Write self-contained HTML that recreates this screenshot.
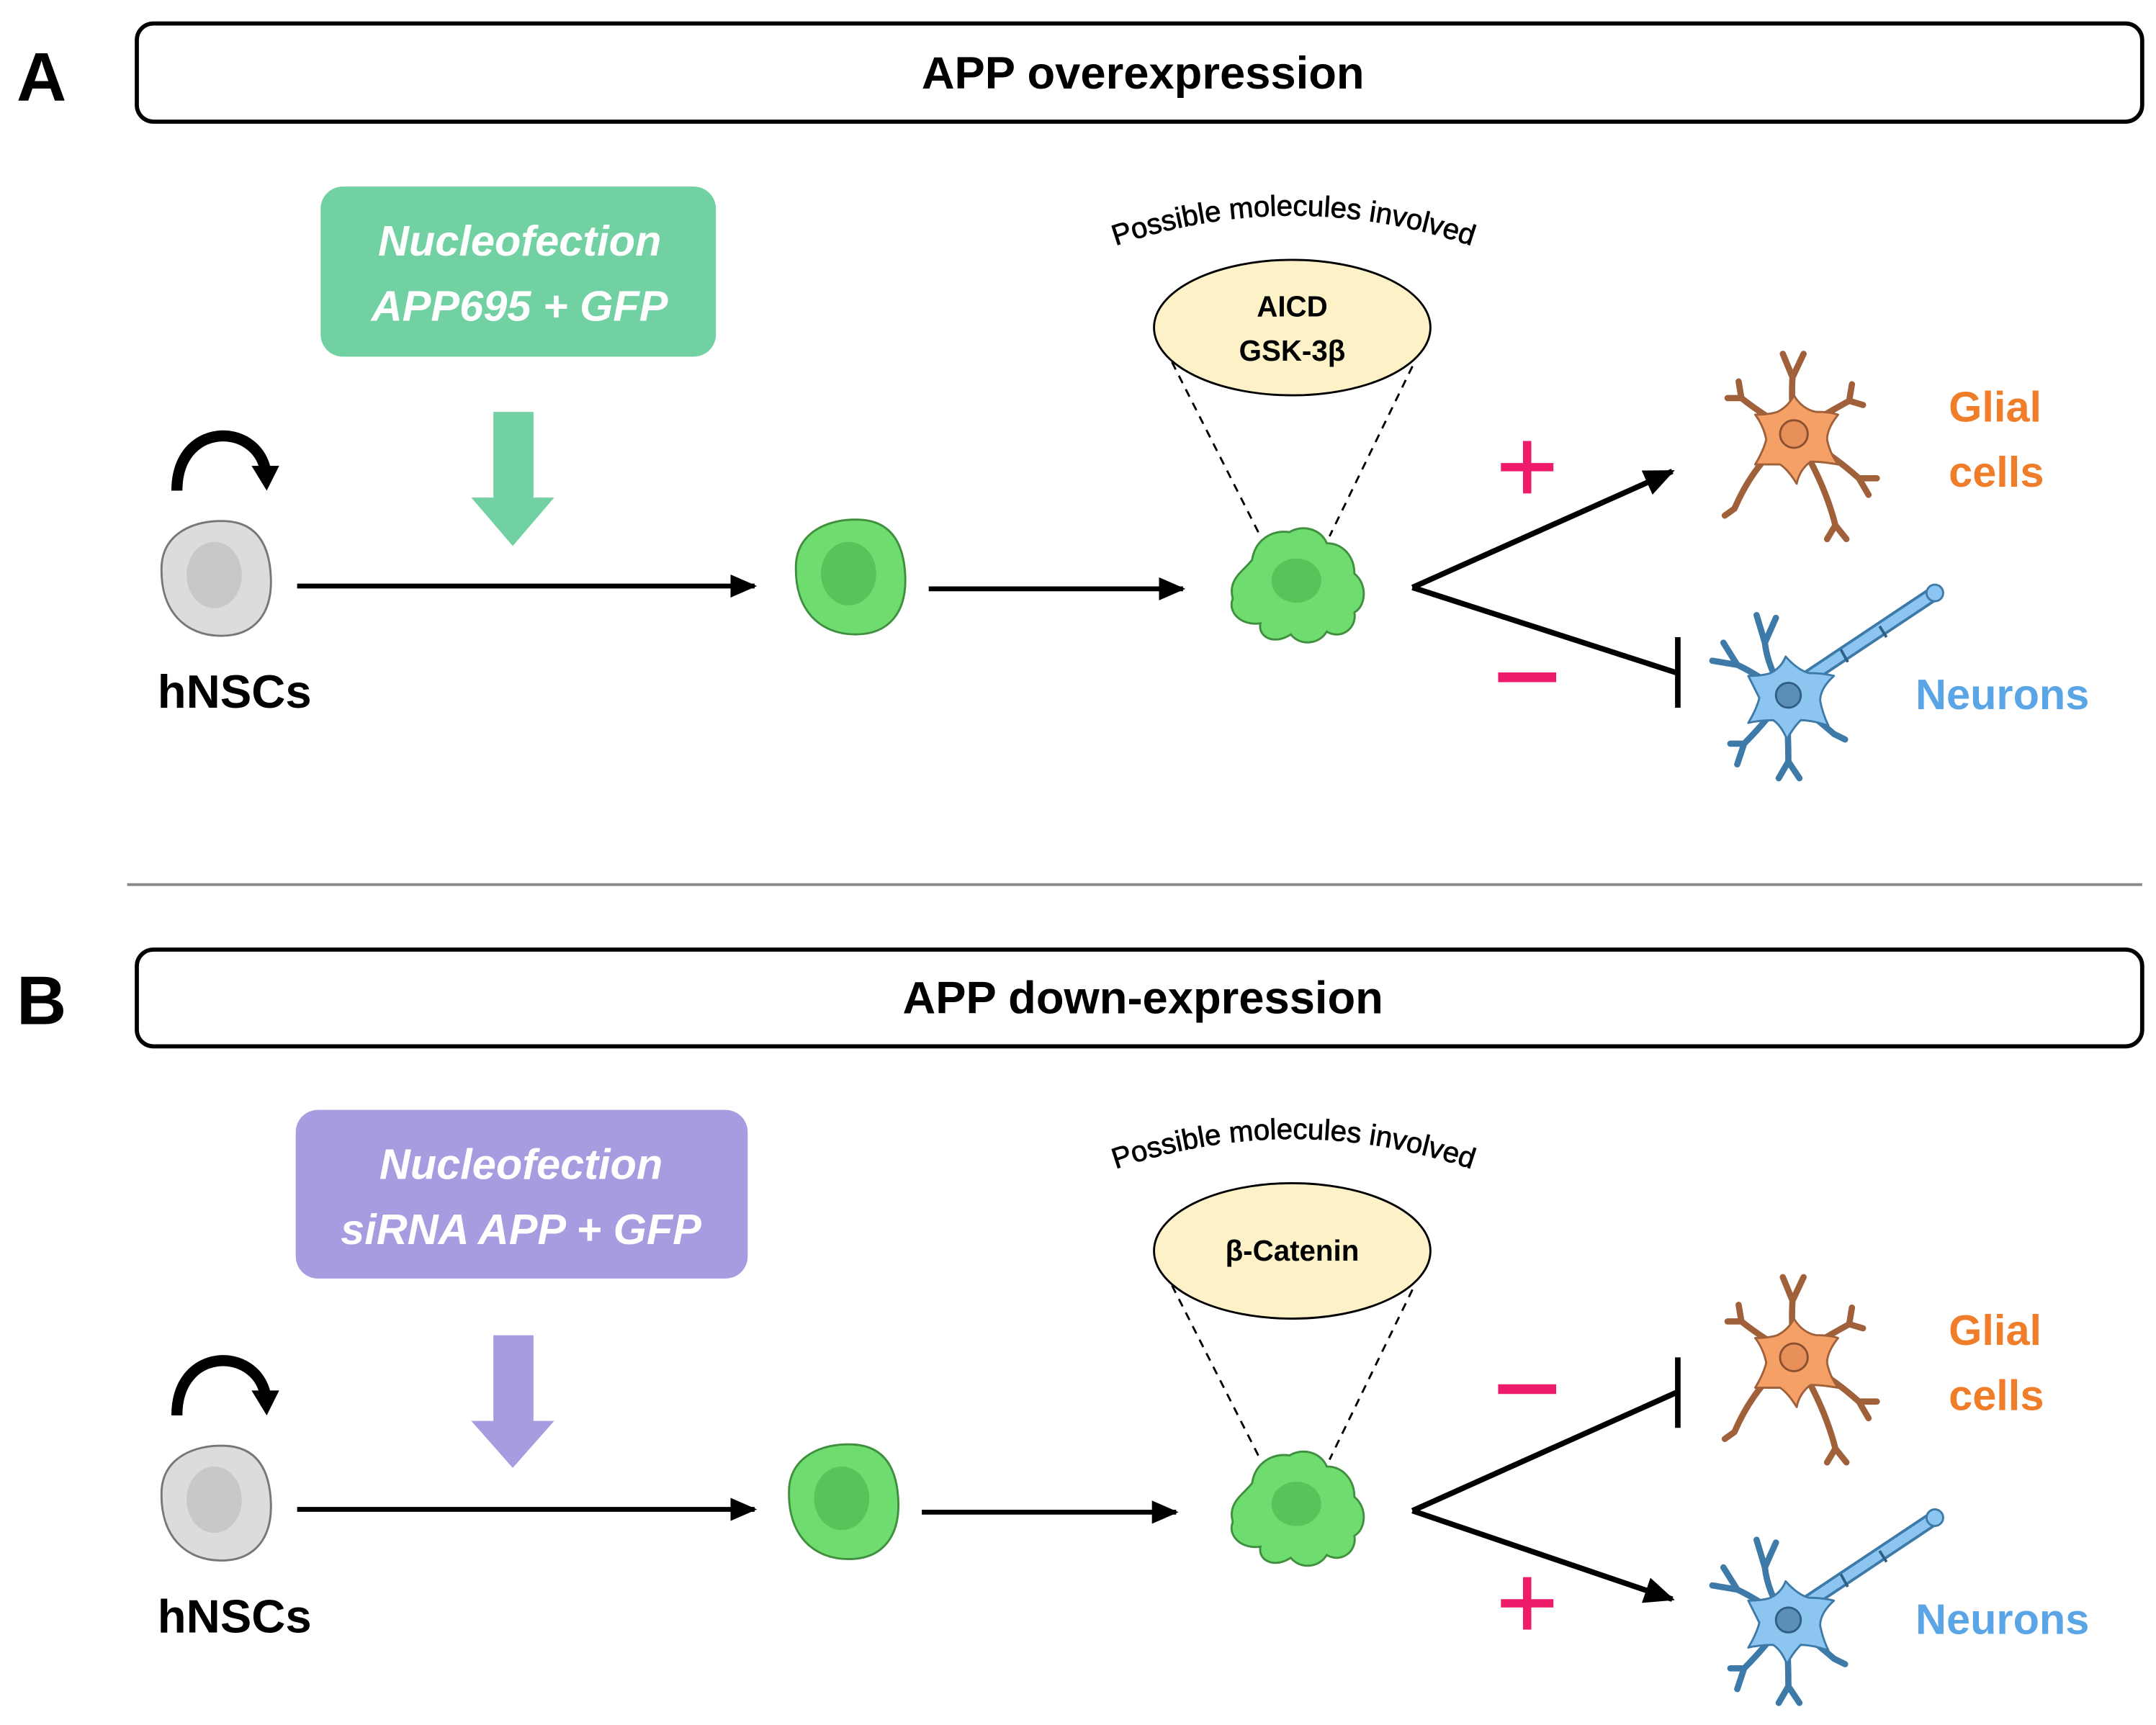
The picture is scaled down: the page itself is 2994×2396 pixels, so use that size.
<!DOCTYPE html>
<html><head><meta charset="utf-8"><style>
html,body{margin:0;padding:0;background:#fff;}
svg{display:block;}
text{font-family:"Liberation Sans",sans-serif;}
</style></head><body>
<svg width="2994" height="2396" viewBox="0 0 1560 1248" preserveAspectRatio="none" xmlns="http://www.w3.org/2000/svg">
<defs>
<marker id="ah" markerWidth="6" markerHeight="6" refX="5" refY="3" orient="auto" markerUnits="strokeWidth">
<path d="M0,0.6 L5.5,3 L0,5.4 Z" fill="#000"/></marker>
<g id="gray">
<path d="M-38,-10 C-36,-32 -15,-42 8,-41 C30,-40 40,-25 41,0 C42,25 30,42 5,42 C-20,42 -40,25 -38,-10 Z" fill="#dcdcdc" stroke="#777" stroke-width="1.5"/>
<ellipse cx="0" cy="-2" rx="20" ry="24" fill="#c8c8c8"/>
</g>
<g id="round">
<path d="M-38,-10 C-36,-32 -15,-42 8,-41 C30,-40 40,-25 41,0 C42,25 30,42 5,42 C-20,42 -40,25 -38,-10 Z" fill="#6fdc6f" stroke="#3f8f3f" stroke-width="1.5"/>
<ellipse cx="0" cy="-2" rx="20" ry="23" fill="#5ac25a"/>
</g>
<g id="wavy">
<path d="M-46,10 C-50,-4 -38,-10 -32,-18 C-30,-32 -18,-40 -5,-38 C5,-44 18,-40 22,-30 C34,-30 42,-20 42,-8 C52,0 50,16 42,20 C44,32 32,40 22,34 C16,44 2,44 -4,36 C-16,44 -28,38 -26,28 C-40,30 -50,20 -46,10 Z" fill="#6fdc6f" stroke="#3f8f3f" stroke-width="1.5"/>
<ellipse cx="0" cy="-3" rx="18" ry="16" fill="#5ac25a"/>
</g>
<g id="glial">
<g stroke="#a0603a" stroke-width="4.5" fill="none" stroke-linecap="round" stroke-linejoin="round">
<path d="M-2,-5 Q-4,-30 -3,-45 L-10,-62 M-3,-45 L5,-62"/>
<path d="M-2,-5 Q-25,-18 -40,-30 L-50,-30 M-40,-30 L-42,-42"/>
<path d="M-2,-5 Q20,-18 38,-28 L48,-25 M38,-28 L40,-40"/>
<path d="M-2,-5 Q25,10 45,28 L58,28 M45,28 L52,40"/>
<path d="M-2,-5 Q20,30 28,62 L22,72 M28,62 L36,72"/>
<path d="M-2,-5 Q-30,15 -45,50 L-52,55"/>
</g>
<path d="M-2,-32 Q4,-22 14,-20 Q24,-20 30,-18 Q22,-8 22,0 Q24,10 30,18 Q18,16 10,16 Q2,22 0,32 Q-6,22 -12,18 Q-22,18 -30,18 Q-24,8 -22,0 Q-24,-10 -30,-18 Q-20,-18 -14,-20 Q-6,-24 -2,-32 Z" fill="#f5a066" stroke="#a0603a" stroke-width="1.5" stroke-linejoin="round"/>
<circle cx="-2" cy="-4" r="10" fill="#e8905a" stroke="#8a5030" stroke-width="1.5"/>
</g>
<g id="neuron">
<g stroke="#3d7aa8" stroke-width="4.5" fill="none" stroke-linecap="round" stroke-linejoin="round">
<path d="M-5,0 Q-18,-20 -20,-38 L-26,-58 M-20,-38 L-12,-56"/>
<path d="M-5,0 Q-25,-15 -40,-22 L-58,-25 M-40,-22 L-50,-38"/>
<path d="M-5,0 Q-20,20 -35,35 L-45,35 M-35,35 L-40,50"/>
<path d="M-5,0 Q-3,25 -3,48 L-10,60 M-3,48 L5,60"/>
<path d="M-5,0 Q15,15 30,28 L38,32"/>
</g>
<path d="M10,-12 L100,-72" stroke="#3d7aa8" stroke-width="11" stroke-linecap="round"/>
<path d="M10,-12 L100,-72" stroke="#8cc6f0" stroke-width="7" stroke-linecap="round"/>
<path d="M35,-33 L40,-24 M63,-50 L68,-42" stroke="#2f5f85" stroke-width="2"/>
<circle cx="103" cy="-74" r="6" fill="#8cc6f0" stroke="#3d7aa8" stroke-width="1.5"/>
<path d="M-5,-28 Q4,-18 12,-16 Q22,-16 30,-14 Q20,-5 20,4 Q22,14 26,22 Q14,18 6,18 Q0,24 -4,32 Q-8,22 -14,18 Q-24,18 -32,20 Q-26,10 -24,2 Q-28,-6 -32,-14 Q-22,-14 -16,-16 Q-8,-20 -5,-28 Z" fill="#8cc6f0" stroke="#3d7aa8" stroke-width="1.5" stroke-linejoin="round"/>
<circle cx="-3" cy="0" r="9" fill="#5b8fb8" stroke="#2f5f85" stroke-width="1.5"/>
</g>
<path id="arcA" d="M790,184 Q935,128 1082,184"/>
<path id="arcB" d="M790,852 Q935,796 1082,852"/>
</defs>

<!-- Panel A -->
<text x="12" y="73" font-size="50" font-weight="bold">A</text>
<rect x="99" y="17" width="1451" height="71" rx="12" fill="#fff" stroke="#000" stroke-width="3"/>
<text x="827" y="64" font-size="33" font-weight="bold" text-anchor="middle">APP overexpression</text>

<rect x="232" y="135" width="286" height="123" rx="16" fill="#72d1a3"/>
<text x="376" y="185" font-size="31" font-weight="bold" font-style="italic" fill="#fff" text-anchor="middle">Nucleofection</text>
<text x="376" y="232" font-size="31" font-weight="bold" font-style="italic" fill="#fff" text-anchor="middle">APP695 + GFP</text>
<path d="M357,298 H386 V360 H401 L371,395 L341,360 H357 Z" fill="#72d1a3"/>

<path d="M128,355 C128,305 185,305 192,340" stroke="#000" stroke-width="8" fill="none"/>
<path d="M182,337 L202,337 L193,355 Z" fill="#000"/>
<use href="#gray" x="155" y="418"/>
<text x="114" y="512" font-size="34" font-weight="bold">hNSCs</text>
<line x1="215" y1="424" x2="546" y2="424" stroke="#000" stroke-width="3.5" marker-end="url(#ah)"/>
<use href="#round" x="614" y="417"/>
<line x1="672" y1="426" x2="856" y2="426" stroke="#000" stroke-width="3.5" marker-end="url(#ah)"/>
<use href="#wavy" x="938" y="423"/>

<text font-size="21" stroke="#000" stroke-width="0.4"><textPath href="#arcA" startOffset="50%" text-anchor="middle">Possible molecules involved</textPath></text>
<line x1="848" y1="262" x2="912" y2="388" stroke="#000" stroke-width="1.5" stroke-dasharray="6,5"/>
<line x1="1022" y1="265" x2="962" y2="388" stroke="#000" stroke-width="1.5" stroke-dasharray="6,5"/>
<ellipse cx="935" cy="237" rx="100" ry="49" fill="#fdf1c8" stroke="#000" stroke-width="1.5"/>
<text x="935" y="229" font-size="21" font-weight="bold" text-anchor="middle">AICD</text>
<text x="935" y="261" font-size="21" font-weight="bold" text-anchor="middle">GSK-3β</text>

<line x1="1022" y1="425" x2="1210" y2="341" stroke="#000" stroke-width="4" marker-end="url(#ah)"/>
<polyline points="1022,425 1214,487" stroke="#000" stroke-width="4" fill="none"/>
<line x1="1214" y1="461" x2="1214" y2="512" stroke="#000" stroke-width="4"/>
<path d="M1086,338 H1124 M1105,319 V357" stroke="#ee1a6a" stroke-width="6"/>
<path d="M1084,490 H1126" stroke="#ee1a6a" stroke-width="7"/>
<use href="#glial" x="1300" y="318"/>
<text x="1410" y="305" font-size="31" font-weight="bold" fill="#f07d2a">Glial</text>
<text x="1410" y="352" font-size="31" font-weight="bold" fill="#f07d2a">cells</text>
<use href="#neuron" x="1297" y="503"/>
<text x="1386" y="513" font-size="31" font-weight="bold" fill="#5aa5e6">Neurons</text>

<line x1="92" y1="640" x2="1550" y2="640" stroke="#888" stroke-width="2"/>

<!-- Panel B -->
<text x="12" y="741" font-size="50" font-weight="bold">B</text>
<rect x="99" y="687" width="1451" height="70" rx="12" fill="#fff" stroke="#000" stroke-width="3"/>
<text x="827" y="733" font-size="33" font-weight="bold" text-anchor="middle">APP down-expression</text>

<rect x="214" y="803" width="327" height="122" rx="16" fill="#a59ddf"/>
<text x="377" y="853" font-size="31" font-weight="bold" font-style="italic" fill="#fff" text-anchor="middle">Nucleofection</text>
<text x="377" y="900" font-size="31" font-weight="bold" font-style="italic" fill="#fff" text-anchor="middle">siRNA APP + GFP</text>
<path d="M357,966 H386 V1028 H401 L371,1062 L341,1028 H357 Z" fill="#a59ddf"/>

<path d="M128,1024 C128,974 185,974 192,1009" stroke="#000" stroke-width="8" fill="none"/>
<path d="M182,1006 L202,1006 L193,1024 Z" fill="#000"/>
<use href="#gray" x="155" y="1087"/>
<text x="114" y="1181" font-size="34" font-weight="bold">hNSCs</text>
<line x1="215" y1="1092" x2="546" y2="1092" stroke="#000" stroke-width="3.5" marker-end="url(#ah)"/>
<use href="#round" x="609" y="1086"/>
<line x1="667" y1="1094" x2="851" y2="1094" stroke="#000" stroke-width="3.5" marker-end="url(#ah)"/>
<use href="#wavy" x="938" y="1091"/>

<text font-size="21" stroke="#000" stroke-width="0.4"><textPath href="#arcB" startOffset="50%" text-anchor="middle">Possible molecules involved</textPath></text>
<line x1="848" y1="930" x2="912" y2="1056" stroke="#000" stroke-width="1.5" stroke-dasharray="6,5"/>
<line x1="1022" y1="933" x2="962" y2="1056" stroke="#000" stroke-width="1.5" stroke-dasharray="6,5"/>
<ellipse cx="935" cy="905" rx="100" ry="49" fill="#fdf1c8" stroke="#000" stroke-width="1.5"/>
<text x="935" y="912" font-size="21" font-weight="bold" text-anchor="middle">β-Catenin</text>

<polyline points="1022,1093 1214,1007" stroke="#000" stroke-width="4" fill="none"/>
<line x1="1214" y1="982" x2="1214" y2="1033" stroke="#000" stroke-width="4"/>
<line x1="1022" y1="1093" x2="1210" y2="1157" stroke="#000" stroke-width="4" marker-end="url(#ah)"/>
<path d="M1084,1005 H1126" stroke="#ee1a6a" stroke-width="7"/>
<path d="M1086,1160 H1124 M1105,1141 V1179" stroke="#ee1a6a" stroke-width="6"/>
<use href="#glial" x="1300" y="986"/>
<text x="1410" y="973" font-size="31" font-weight="bold" fill="#f07d2a">Glial</text>
<text x="1410" y="1020" font-size="31" font-weight="bold" fill="#f07d2a">cells</text>
<use href="#neuron" x="1297" y="1172"/>
<text x="1386" y="1182" font-size="31" font-weight="bold" fill="#5aa5e6">Neurons</text>
</svg>
</body></html>
